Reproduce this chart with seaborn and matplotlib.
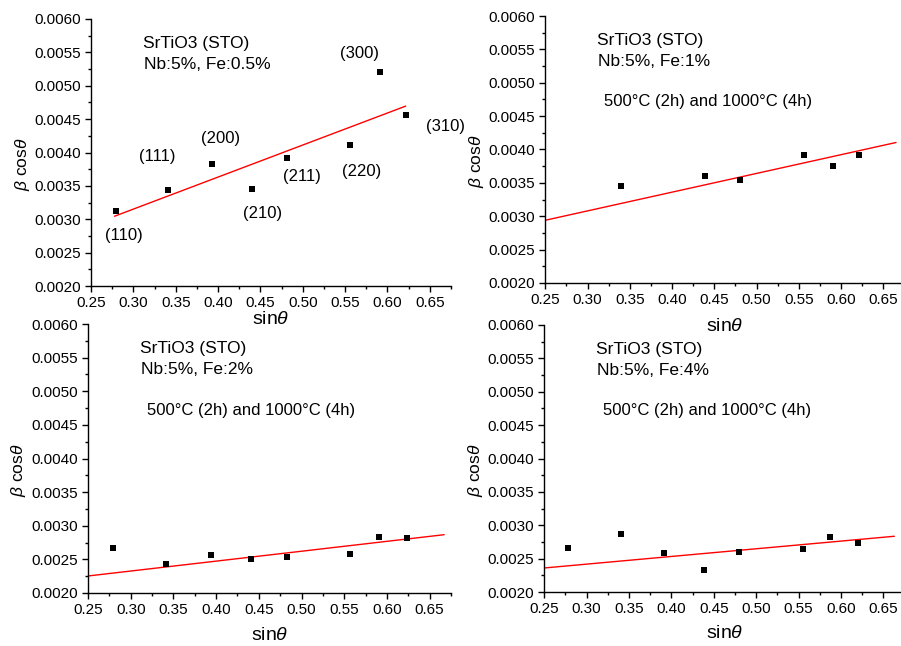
import numpy as np
import pandas as pd
import matplotlib
matplotlib.use("Agg")
import matplotlib.pyplot as plt
import seaborn as sns
from matplotlib.ticker import MultipleLocator, FormatStrFormatter

# ---------------- data ----------------
# Panel A: Nb 5%, Fe 0.5%
a_x = [0.279, 0.3405, 0.3927, 0.440, 0.481, 0.556, 0.5907, 0.6223]
a_y = [0.003125, 0.003435, 0.003835, 0.003455, 0.003925, 0.004105, 0.00521, 0.004555]
a_hkl = ["(110)", "(111)", "(200)", "(210)", "(211)", "(220)", "(300)", "(310)"]
a_hkl_x = [0.289, 0.328, 0.403, 0.452, 0.499, 0.569, 0.567, 0.668]
a_hkl_y = [0.002764, 0.003933, 0.004217, 0.003079, 0.003633, 0.003708, 0.005476, 0.004397]
a_fit_x = [0.2777, 0.6215]
a_fit_y = [0.003045, 0.004695]

# Panel B: Nb 5%, Fe 1%
b_x = [0.3392, 0.4393, 0.4804, 0.5561, 0.590, 0.6216]
b_y = [0.00345, 0.00361, 0.00354, 0.003915, 0.003755, 0.003915]
b_fit_x = [0.25, 0.665]
b_fit_y = [0.00294, 0.004105]

# Panel C: Nb 5%, Fe 2%
c_x = [0.2794, 0.3414, 0.3939, 0.441, 0.4833, 0.557, 0.5908, 0.6237]
c_y = [0.002674, 0.002426, 0.002565, 0.00251, 0.00253, 0.002584, 0.002827, 0.002817]
c_fit_x = [0.25, 0.667]
c_fit_y = [0.002253, 0.002867]

# Panel D: Nb 5%, Fe 4%
d_x = [0.2775, 0.3401, 0.3916, 0.4384, 0.4797, 0.5549, 0.5875, 0.6206]
d_y = [0.002655, 0.002875, 0.002585, 0.00233, 0.002605, 0.00264, 0.00282, 0.00273]
d_fit_x = [0.25, 0.663]
d_fit_y = [0.00236, 0.002835]

titles1 = ["SrTiO3 (STO)"] * 4
titles2 = ["Nb:5%, Fe:0.5%", "Nb:5%, Fe:1%", "Nb:5%, Fe:2%", "Nb:5%, Fe:4%"]
anneal = [None, "500°C (2h) and 1000°C (4h)", "500°C (2h) and 1000°C (4h)",
          "500°C (2h) and 1000°C (4h)"]

x_label = r"sin$\theta$"
y_label = r"$\beta$ cos$\theta$"

# ---------------- style ----------------
sns.set_style("ticks")
plt.rcParams["font.family"] = ["Liberation Sans", "DejaVu Sans"]
plt.rcParams["mathtext.fontset"] = "custom"
plt.rcParams["mathtext.rm"] = "Liberation Sans"
plt.rcParams["mathtext.it"] = "Liberation Sans:italic"
plt.rcParams["axes.linewidth"] = 1.0
for k in ["text.color", "axes.labelcolor", "xtick.color", "ytick.color",
          "axes.edgecolor"]:
    plt.rcParams[k] = "black"

W, H = 901, 646
fig = plt.figure(figsize=(W / 100, H / 100), dpi=100)
fig.patch.set_facecolor("white")

# axes boxes in pixels: left, top, right, bottom
boxes = [
    (91, 19, 451, 286),
    (545.3, 16, 904.5, 283),
    (88, 324, 451, 593),
    (544.3, 325, 904.5, 592),
]
xlab_dist = [34, 44, 42, 41]

panels = [
    (a_x, a_y, a_fit_x, a_fit_y),
    (b_x, b_y, b_fit_x, b_fit_y),
    (c_x, c_y, c_fit_x, c_fit_y),
    (d_x, d_y, d_fit_x, d_fit_y),
]

for i, ((px, py, fx, fy), (l, t, r, b)) in enumerate(zip(panels, boxes)):
    ax = fig.add_axes([l / W, 1 - b / H, (r - l) / W, (b - t) / H])
    ax.set_facecolor("none")
    ax.set_xlim(0.25, 0.675)
    ax.set_ylim(0.0020, 0.0060)

    pts = pd.DataFrame({"x": px, "y": py})
    fit = pd.DataFrame({"x": fx, "y": fy})
    sns.lineplot(data=fit, x="x", y="y", color="#ff0000", linewidth=1.0, ax=ax)
    sns.scatterplot(data=pts, x="x", y="y", marker="s", color="black", s=22,
                    linewidth=0, ax=ax, zorder=3)

    sns.despine(ax=ax)
    ax.xaxis.set_major_locator(MultipleLocator(0.05))
    ax.xaxis.set_minor_locator(MultipleLocator(0.025))
    ax.yaxis.set_major_locator(MultipleLocator(0.0005))
    ax.yaxis.set_minor_locator(MultipleLocator(0.00025))
    ax.xaxis.set_major_formatter(FormatStrFormatter("%.2f"))
    ax.yaxis.set_major_formatter(FormatStrFormatter("%.4f"))
    ax.tick_params(which="major", direction="out", length=4.5, width=1.0,
                   labelsize=11, colors="black", pad=3)
    ax.tick_params(which="minor", direction="out", length=2.5, width=1.0,
                   colors="black")

    w_px = r - l
    h_px = b - t
    ax.set_xlabel(x_label, fontsize=14, va="center")
    ax.xaxis.set_label_coords(0.5, -xlab_dist[i] / h_px)
    ax.set_ylabel(y_label, fontsize=12.5, va="center")
    ax.yaxis.set_label_coords(-69 / w_px, 0.5 - 11.5 / h_px)

    tx = 0.311
    ax.text(tx, 0.00563, titles1[i], fontsize=12.5, ha="left", va="center")
    ax.text(tx + 0.0015, 0.00532, titles2[i], fontsize=12.5, ha="left", va="center")
    if anneal[i]:
        ax.text(0.319, 0.00472, anneal[i], fontsize=12, ha="left", va="center")

    if i == 0:
        for lab, hx, hy in zip(a_hkl, a_hkl_x, a_hkl_y):
            ax.text(hx, hy, lab, fontsize=12, ha="center", va="center")

fig.savefig("out.png", dpi=100, facecolor="white")
